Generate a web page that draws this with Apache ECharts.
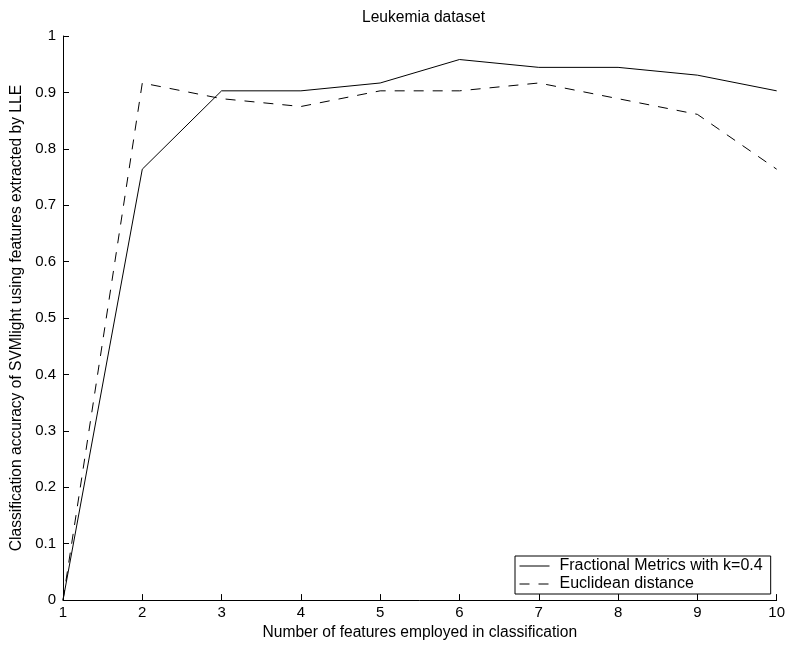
<!DOCTYPE html>
<html>
<head>
<meta charset="utf-8">
<script src="https://cdn.jsdelivr.net/npm/echarts@6/dist/echarts.min.js"></script>
<style>html,body{margin:0;padding:0;background:#fff;}#c{width:788px;height:646px;}</style>
</head>
<body>
<div id="c"></div>
<script>
var features = [1, 2, 3, 4, 5, 6, 7, 8, 9, 10];
var fractional = [0, 0.7639, 0.9028, 0.9028, 0.9167, 0.9583, 0.9444, 0.9444, 0.9306, 0.9028];
var euclidean = [0, 0.9167, 0.8889, 0.875, 0.9028, 0.9028, 0.9167, 0.8889, 0.8611, 0.7639];
var seriesNames = ['Fractional Metrics with k=0.4', 'Euclidean distance'];
var titleText = 'Leukemia dataset';
var xName = 'Number of features employed in classification';
var yName = 'Classification accuracy of SVMlight using features extracted by LLE';

function pairs(xs, ys) { return xs.map(function (x, i) { return [x, ys[i]]; }); }

var FONT = 'Liberation Sans, Arial, Helvetica, sans-serif';
var FS = 15;
var DASH = [10, 9];
var chart = echarts.init(document.getElementById('c'), null, { renderer: 'canvas' });
var axisCommon = {
  axisLine: { show: true, lineStyle: { color: '#000', width: 1 } },
  axisTick: { show: true, inside: true, length: 6, lineStyle: { color: '#000' } },
  splitLine: { show: false },
  axisLabel: { color: '#000', fontFamily: FONT, fontSize: FS },
  nameTextStyle: { color: '#000', fontFamily: FONT, fontSize: 15.6 }
};
chart.setOption({
  animation: false,
  backgroundColor: '#fff',
  title: {
    text: titleText,
    left: 357, top: 5,
    textStyle: { color: '#000', fontFamily: FONT, fontSize: 15.6, fontWeight: 'normal' }
  },
  grid: { left: 63, right: 10, top: 36, bottom: 45, containLabel: false },
  xAxis: Object.assign({}, axisCommon, {
    type: 'value', min: 1, max: 10, interval: 1,
    name: xName, nameLocation: 'middle', nameGap: 23,
    axisLabel: Object.assign({}, axisCommon.axisLabel, { margin: 5 })
  }),
  yAxis: Object.assign({}, axisCommon, {
    type: 'value', min: 0, max: 1, interval: 0.1,
    name: yName, nameLocation: 'middle', nameGap: 36,
    axisLabel: Object.assign({}, axisCommon.axisLabel, { margin: 7 })
  }),
  legend: {
    orient: 'vertical', left: 515, top: 556,
    padding: [2, 8, 2, 4], itemGap: 2, itemWidth: 30, itemHeight: 15,
    backgroundColor: '#fff', borderColor: '#000', borderWidth: 1, borderRadius: 0,
    itemStyle: { opacity: 0 },
    lineStyle: { width: 1 },
    textStyle: { color: '#000', fontFamily: FONT, fontSize: 16, padding: [0, 0, 0, 5] },
    data: seriesNames
  },
  series: [
    { name: seriesNames[0], type: 'line', data: pairs(features, fractional), symbol: 'none',
      lineStyle: { color: '#000', width: 1, type: 'solid' }, itemStyle: { color: '#000' } },
    { name: seriesNames[1], type: 'line', data: pairs(features, euclidean), symbol: 'none',
      lineStyle: { color: '#000', width: 1, type: DASH }, itemStyle: { color: '#000' } }
  ]
});
</script>
</body>
</html>
